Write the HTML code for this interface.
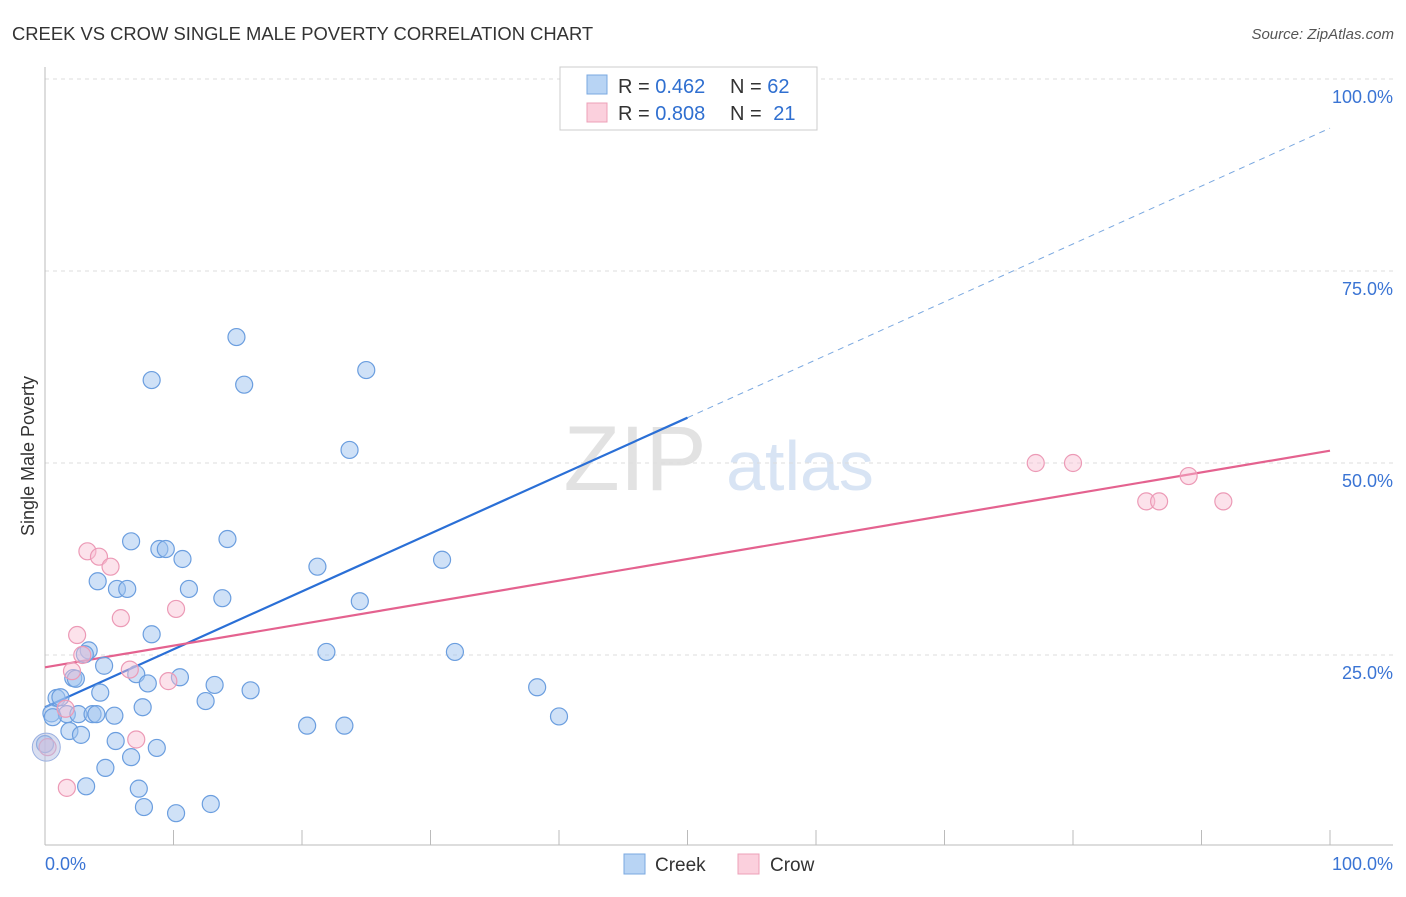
<!DOCTYPE html>
<html><head><meta charset="utf-8"><style>
body{margin:0;background:#fff;font-family:"Liberation Sans",sans-serif}
svg text{font-family:"Liberation Sans",sans-serif}
</style></head><body>
<svg id="chart" width="1406" height="892">
<text x="12" y="40" font-size="18.4" fill="#333">CREEK VS CROW SINGLE MALE POVERTY CORRELATION CHART</text>
<text x="1394" y="39" font-size="15" fill="#555" font-style="italic" text-anchor="end">Source: ZipAtlas.com</text>
<text x="34" y="456" font-size="18" fill="#333" transform="rotate(-90 34 456)" text-anchor="middle">Single Male Poverty</text>
<g>
<text x="635" y="490" font-size="92" fill="#e2e2e2" font-family="Liberation Serif,serif" text-anchor="middle">ZIP</text>
<text x="800" y="490" font-size="70" fill="#d8e4f4" text-anchor="middle">atlas</text>
</g>
<g id="grid"></g><g id="axes"></g><g id="lines"></g><g id="pts"></g>
<g>
<rect x="560" y="67" width="257" height="63" fill="#fff" stroke="#ccc"/>
<rect x="587" y="75" width="20" height="19" fill="#b8d4f4" stroke="#7aa8e0"/>
<rect x="587" y="103" width="20" height="19" fill="#fbd0dd" stroke="#eca0b8"/>
<text x="618" y="93" font-size="20" fill="#333">R = <tspan fill="#2f6fd0">0.462</tspan></text>
<text x="730" y="93" font-size="20" fill="#333">N = <tspan fill="#2f6fd0">62</tspan></text>
<text x="618" y="120" font-size="20" fill="#333">R = <tspan fill="#2f6fd0">0.808</tspan></text>
<text x="730" y="120" font-size="20" fill="#333">N = <tspan fill="#2f6fd0" dx="6">21</tspan></text>
</g>
<g>
<rect x="624" y="854" width="21" height="20" fill="#b8d4f4" stroke="#7aa8e0"/>
<text x="655" y="871" font-size="19" fill="#333">Creek</text>
<rect x="738" y="854" width="21" height="20" fill="#fbd0dd" stroke="#eca0b8"/>
<text x="770" y="871" font-size="19" fill="#333">Crow</text>
</g>
</svg>
<script>
const yTicks=[25,50,75,100];
const yTickLabels=["25.0%","50.0%","75.0%","100.0%"];
const creekX=[14.9,8.3,15.5,25,23.7,6.7,8.9,9.4,10.7,14.2,21.2,30.9,4.1,5.6,6.4,11.2,13.8,24.5,8.3,3.4,3.1,21.9,31.9,4.6,7.1,10.5,8,2.2,2.4,13.2,16,38.3,4.3,0.9,1.2,12.5,7.6,0.5,1.7,2.6,3.7,4,5.4,40,0.6,20.4,23.3,1.9,2.8,5.5,8.7,0,6.7,4.7,3.2,7.3,7.7,10.2,12.9];
const creekY=[66.4,60.8,60.2,62.1,51.7,39.8,38.8,38.8,37.5,40.1,36.5,37.4,34.6,33.6,33.6,33.6,32.4,32,27.7,25.6,25.1,25.4,25.4,23.6,22.5,22.1,21.3,22,21.9,21.1,20.4,20.8,20.1,19.4,19.5,19,18.2,17.4,17.3,17.3,17.3,17.3,17.1,17,16.9,15.8,15.8,15.1,14.6,13.8,12.9,13.4,11.7,10.3,7.9,7.6,5.2,4.4,5.6];
const crowX=[3.3,4.2,5.1,5.9,10.2,2.5,2.9,2.1,6.6,9.6,7.1,1.7,0.2,1.6,77.1,80,89,85.7,86.7,91.7];
const crowY=[38.5,37.8,36.5,29.8,31,27.6,25,22.9,23.1,21.6,14,7.7,13,18,50,50,48.3,45,45,45];
const creekFit=[18.2,93.6];
const crowFit=[23.4,51.6];
const NS="http://www.w3.org/2000/svg";
const X=v=>45+v*12.85, Y=v=>847-v*7.68;
function mk(p,t,a){const e=document.createElementNS(NS,t);for(const k in a)e.setAttribute(k,a[k]);document.getElementById(p).appendChild(e);return e;}
yTicks.forEach((t,i)=>{
 const g=mk('grid','line',{x1:45,x2:1393,y1:Y(t),y2:Y(t),stroke:'#ddd','stroke-dasharray':'4,4'});
 
 
 const l=mk('grid','text',{x:1393,y:Y(t)+24,'font-size':18,fill:'#3a74d4','text-anchor':'end'});l.textContent=yTickLabels[i];
 
 
});
let a=mk('axes','line',{x1:45,x2:1393,y1:845,y2:845,stroke:'#bbb'});


a=mk('axes','line',{x1:45,x2:45,y1:67,y2:845,stroke:'#bbb'});


for(let i=0;i<=10;i++){const t=mk('axes','line',{x1:X(i*10),x2:X(i*10),y1:830,y2:845,stroke:'#bbb'});
 
 }
let t=mk('axes','text',{x:45,y:870,'font-size':18,fill:'#3a74d4'});t.textContent='0.0%';

t=mk('axes','text',{x:1393,y:870,'font-size':18,fill:'#3a74d4','text-anchor':'end'});t.textContent='100.0%';

const ym=creekFit[0]+(creekFit[1]-creekFit[0])*0.5;
let ln=mk('lines','line',{x1:X(0),y1:Y(creekFit[0]),x2:X(50),y2:Y(ym),stroke:'#2a6fd6','stroke-width':2.2});

ln=mk('lines','line',{x1:X(50),y1:Y(ym),x2:X(100),y2:Y(creekFit[1]),stroke:'#7aa8e0','stroke-width':1,'stroke-dasharray':'6,5'});

ln=mk('lines','line',{x1:X(0),y1:Y(crowFit[0]),x2:X(100),y2:Y(crowFit[1]),stroke:'#e4628f','stroke-width':2.2});

creekX.forEach((x,i)=>{const c=mk('pts','circle',{cx:X(x),cy:Y(creekY[i]),r:8.5,fill:'rgba(160,196,240,0.5)',stroke:'#6b9edf','stroke-width':1.2});
 });
crowX.forEach((x,i)=>{const c=mk('pts','circle',{cx:X(x),cy:Y(crowY[i]),r:8.5,fill:'rgba(248,190,210,0.45)',stroke:'#ec9ab6','stroke-width':1.2});
 });
let big=mk('pts','circle',{cx:X(0.1),cy:Y(13),r:14,fill:'rgba(180,190,225,0.5)',stroke:'#9ab0e0'});

</script>
</body></html>
